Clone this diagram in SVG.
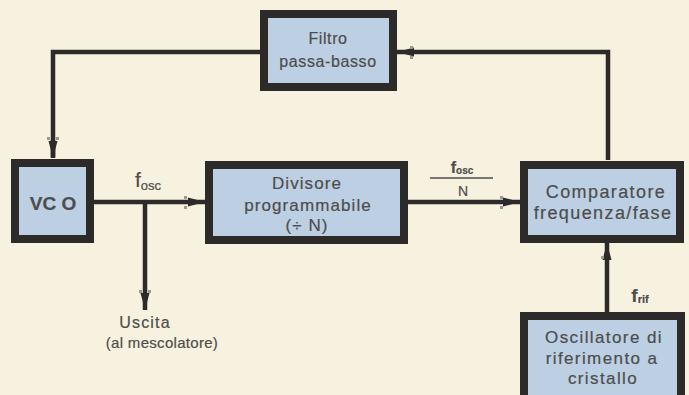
<svg xmlns="http://www.w3.org/2000/svg" width="689" height="395" viewBox="0 0 689 395">
<style>
.box{fill:#bccfe3;stroke:#2c2b2a;stroke-width:8}
.ln{fill:none;stroke:#2c2b2a;stroke-width:4.5}
.t{font-family:"Liberation Sans",Arial,sans-serif;fill:#4d4d4d;stroke:#4d4d4d;stroke-width:0.2;text-anchor:middle}
.m{font-size:17px;letter-spacing:1.1px}
.c{font-size:18px;letter-spacing:1.4px}
.o{font-size:17px;letter-spacing:1.4px}
</style>
<defs>
<marker id="ah" markerUnits="userSpaceOnUse" markerWidth="18" markerHeight="12" refX="17" refY="6" orient="auto">
<path d="M0,1.5 L17,6 L0,10.5 z" fill="#2c2b2a"/>
</marker>
</defs>
<rect width="689" height="395" fill="#f6f2df"/>
<g id="connectors">
<path class="ln" d="M53 157 V52 H262"/>
<path class="ln" d="M608 160 V52 H397" marker-end="url(#ah)"/>
<path class="ln" d="M53 140 V158" marker-end="url(#ah)"/>
<path class="ln" d="M94 202 H205" marker-end="url(#ah)"/>
<path class="ln" d="M145 202 V310" marker-end="url(#ah)"/>
<path class="ln" d="M408 202 H520" marker-end="url(#ah)"/>
<path class="ln" d="M607 312 V243" marker-end="url(#ah)"/>
<g fill="#9a9890">
<rect x="47" y="137" width="3" height="3"/><rect x="56" y="137" width="3" height="3"/>
<rect x="184" y="196" width="3" height="3"/><rect x="184" y="206" width="3" height="3"/>
<rect x="500" y="196" width="3" height="3"/><rect x="500" y="206" width="3" height="3"/>
<rect x="410" y="46" width="3" height="3"/><rect x="410" y="56" width="3" height="3"/>
<rect x="139" y="290" width="3" height="3"/><rect x="148" y="290" width="3" height="3"/>
<rect x="601" y="256" width="3" height="3"/>
</g>
</g>
<g id="filtro">
<rect class="box" x="264" y="14" width="129" height="73"/>
<text class="t" x="328" y="44" font-size="16" letter-spacing="0.6">Filtro</text>
<text class="t" x="328" y="67" font-size="16" letter-spacing="0.6">passa-basso</text>
</g>
<g id="vco">
<rect class="box" x="15" y="163" width="75" height="76"/>
<text class="t" x="53" y="210" font-size="19" font-weight="bold">VC O</text>
</g>
<g id="divisore">
<rect class="box" x="209" y="165" width="195" height="75"/>
<text class="t m" x="307" y="189">Divisore</text>
<text class="t m" x="308" y="211">programmabile</text>
<text class="t m" x="307" y="231">(÷ N)</text>
</g>
<g id="comparatore">
<rect class="box" x="524" y="165" width="156" height="74"/>
<text class="t c" x="606" y="198">Comparatore</text>
<text class="t c" x="603" y="219">frequenza/fase</text>
</g>
<g id="oscillatore">
<rect class="box" x="524" y="316" width="157" height="100"/>
<text class="t o" x="604" y="343">Oscillatore di</text>
<text class="t o" x="602" y="364">riferimento a</text>
<text class="t o" x="603" y="384">cristallo</text>
</g>
<g id="labels">
<text class="t" x="135" y="187" font-size="21" style="text-anchor:start">f<tspan font-size="13" dy="3">osc</tspan></text>
<text class="t" x="462" y="173" font-size="16" style="font-weight:bold">f<tspan font-size="10" dy="1">osc</tspan></text>
<line x1="430" y1="178" x2="493" y2="178" stroke="#4d4d4d" stroke-width="1.3"/>
<text class="t" x="463" y="196" font-size="14">N</text>
<text class="t" x="640" y="302" font-size="19" style="font-weight:bold">f<tspan font-size="11" dy="1">rif</tspan></text>
<text class="t" x="145" y="328" font-size="16" letter-spacing="1.2">Uscita</text>
<text class="t" x="162" y="348" font-size="15" letter-spacing="0.3">(al mescolatore)</text>
</g>
</svg>
